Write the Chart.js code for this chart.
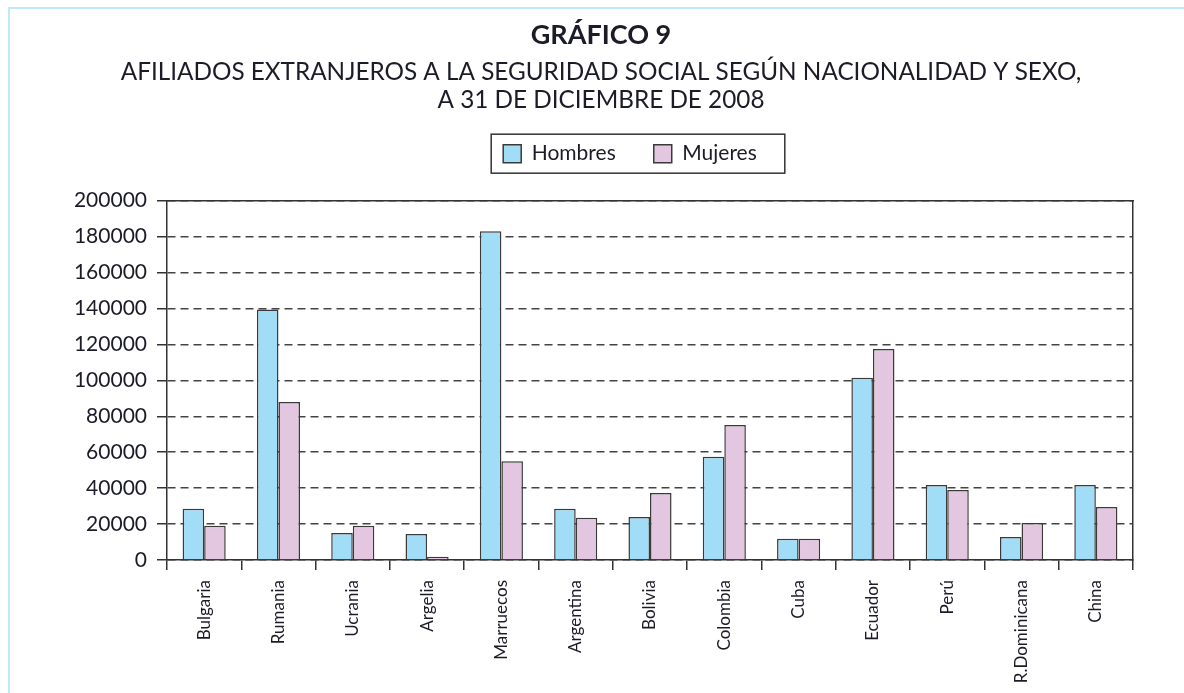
<!DOCTYPE html>
<html>
<head>
<meta charset="utf-8">
<script src="https://cdn.jsdelivr.net/npm/chart.js@4"></script>
<style>
  html, body { margin: 0; padding: 0; background: #fff; overflow: hidden; }
  #frame { position: absolute; left: 8px; top: 7px; width: 1300px; height: 800px;
           border-top: 2px solid #bfe8f9; border-left: 2px solid #bfe8f9; }
  #afiliados-chart { position: absolute; left: 0; top: 0; }
</style>
</head>
<body>
<div id="frame"></div>
<canvas id="afiliados-chart" width="1184" height="693"></canvas>
<script>
var paises = ['Bulgaria', 'Rumania', 'Ucrania', 'Argelia', 'Marruecos', 'Argentina', 'Bolivia',
              'Colombia', 'Cuba', 'Ecuador', 'Perú', 'R.Dominicana', 'China'];
var hombres = [28500, 139500, 15000, 14500, 183000, 28500, 24000, 57500, 11800, 101500, 41800, 12800, 41800];
var mujeres = [19000, 88000, 19000, 1800, 55000, 23500, 37300, 75200, 11800, 117500, 39000, 20600, 29500];
var ejeY = [0, 200000, 20000]; // min, max, step

var fuente = 'Lato, "Open Sans", sans-serif';
var tinta = '#1c1c28';

// draws the box round the legend and nudges it a bit to the left
var legendBox = {
    id: 'legendBox',
    afterLayout: function (chart) {
        chart.legend.left -= 20;
        chart.legend.right -= 20;
    },
    afterDraw: function (chart) {
        var boxes = chart.legend.legendHitBoxes;
        if (!boxes || !boxes.length) return;
        var first = boxes[0], last = boxes[boxes.length - 1];
        var ctx = chart.ctx;
        ctx.save();
        ctx.strokeStyle = '#333';
        ctx.lineWidth = 1.5;
        ctx.strokeRect(first.left - 12, first.top - 9, (last.left + last.width + 28) - (first.left - 12), first.height + 18);
        ctx.restore();
    }
};

document.addEventListener('DOMContentLoaded', function () {
    var ctx = document.getElementById('afiliados-chart').getContext('2d');
    var afiliadosChart = new Chart(ctx, {
        type: 'bar',
        data: {
            labels: paises,
            datasets: [{
                label: 'Hombres',
                data: hombres,
                backgroundColor: '#a2ddf8',
                borderColor: '#3a3a3a',
                borderWidth: 1.5,
                categoryPercentage: 0.58,
                barPercentage: 1
            }, {
                label: 'Mujeres',
                data: mujeres,
                backgroundColor: '#e3c6df',
                borderColor: '#3a3a3a',
                borderWidth: 1.5,
                categoryPercentage: 0.58,
                barPercentage: 1
            }]
        },
        options: {
            responsive: false,
            animation: false,
            layout: { padding: { left: 69, right: 51, top: 0, bottom: 0 } },
            plugins: {
                title: {
                    display: true,
                    text: 'GRÁFICO 9',
                    color: tinta,
                    font: { family: fuente, size: 27, weight: 'bold', lineHeight: 1.1 },
                    padding: { top: 20.5, bottom: 0 }
                },
                subtitle: {
                    display: true,
                    text: ['AFILIADOS EXTRANJEROS A LA SEGURIDAD SOCIAL SEGÚN NACIONALIDAD Y SEXO,',
                           'A 31 DE DICIEMBRE DE 2008'],
                    color: tinta,
                    font: { family: fuente, size: 24.3, lineHeight: 1.152 },
                    padding: { top: 8, bottom: -9 }
                },
                legend: {
                    position: 'top',
                    fullSize: false,
                    labels: {
                        color: tinta,
                        font: { family: fuente, size: 21 },
                        boxWidth: 18,
                        boxHeight: 18,
                        padding: 38
                    }
                },
                tooltip: { enabled: false }
            },
            scales: {
                x: {
                    grid: { drawOnChartArea: false, tickLength: 10, color: '#333', lineWidth: 1.5 },
                    border: { color: '#333', width: 1.5 },
                    ticks: {
                        color: tinta,
                        font: { family: fuente, size: 17 },
                        minRotation: 90,
                        maxRotation: 90,
                        autoSkip: false,
                        padding: 10
                    },
                    afterFit: function (scale) { scale.height = 133; }
                },
                x2: {
                    type: 'category',
                    position: 'top',
                    grid: { display: false },
                    ticks: { display: false },
                    border: { display: true, color: '#333', width: 1.5 },
                    afterFit: function (scale) { scale.height = 26.5; }
                },
                y: {
                    min: ejeY[0],
                    max: ejeY[1],
                    ticks: {
                        stepSize: ejeY[2],
                        color: tinta,
                        font: { family: fuente, size: 21 },
                        padding: 10,
                        callback: function (v) { return String(v); }
                    },
                    grid: { color: '#444', lineWidth: 1.5, tickLength: 10, tickColor: '#333', tickWidth: 1.5 },
                    border: { color: '#333', width: 1.5, dash: [8, 5] },
                    afterFit: function (scale) { scale.width = 98; }
                },
                y2: {
                    type: 'linear',
                    position: 'right',
                    grid: { display: false },
                    ticks: { display: false },
                    border: { display: true, color: '#333', width: 1.5 },
                    afterFit: function (scale) { scale.width = 0; }
                }
            }
        },
        plugins: [legendBox]
    });
});
</script>
</body>
</html>
